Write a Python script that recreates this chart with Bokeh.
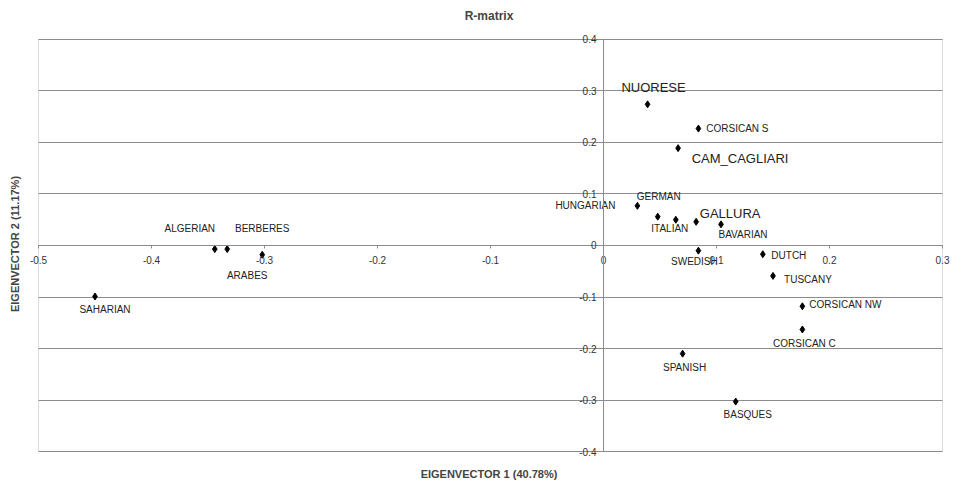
from bokeh.plotting import figure
from bokeh.models import ColumnDataSource, FixedTicker, Title, BoxAnnotation
from bokeh.core.properties import value
from bokeh.embed import file_html
from bokeh.resources import INLINE

# ---- data ----
names = ["NUORESE", "CORSICAN S", "CAM_CAGLIARI", "HUNGARIAN", "GERMAN", "ITALIAN",
         "GALLURA", "BAVARIAN", "SWEDISH", "DUTCH", "TUSCANY", "CORSICAN NW",
         "CORSICAN C", "SPANISH", "BASQUES", "ALGERIAN", "BERBERES", "ARABES", "SAHARIAN"]
ev1 = [0.039, 0.084, 0.066, 0.030, 0.048, 0.064, 0.082, 0.104, 0.084, 0.141, 0.150,
       0.176, 0.176, 0.070, 0.117, -0.344, -0.333, -0.302, -0.450]
ev2 = [0.274, 0.227, 0.189, 0.077, 0.056, 0.050, 0.046, 0.041, -0.010, -0.017, -0.059,
       -0.118, -0.163, -0.210, -0.303, -0.007, -0.007, -0.018, -0.099]
highlighted = ["NUORESE", "CAM_CAGLIARI", "GALLURA"]

x_ticks = [-0.5, -0.4, -0.3, -0.2, -0.1, 0, 0.1, 0.2, 0.3]
y_ticks = [-0.4, -0.3, -0.2, -0.1, 0, 0.1, 0.2, 0.3, 0.4]
x_tick_labels = ["-0.5", "-0.4", "-0.3", "-0.2", "-0.1", "0", "0.1", "0.2", "0.3"]
y_tick_labels = ["-0.4", "-0.3", "-0.2", "-0.1", "0", "0.1", "0.2", "0.3", "0.4"]

# label placement (screen pixels, layout only)
label_dx = [6, 39, 62, -52, 1, -6, 34, 22, -4, 26, 35, 43, 2, 2, 12, -25, 35, -15, 10]
label_dy = [-17, 0, 10, 0, -20, 9, -8, 10, 11, 1, 4, -2, 14, 14, 13, -21, -21, 21, 13]

FONT = "Liberation Sans"
GRID = "#8c8c8c"
TICK_TXT = "#333333"

# ---- layout: plot area 904 x 414 px; the frame is padded a little so that the
# end tick labels (which straddle the plot-area border) are not clipped ----
x_lo, x_hi = x_ticks[0], x_ticks[-1]
y_lo, y_hi = y_ticks[0], y_ticks[-1]
AREA_W, AREA_H = 904, 414
kx = AREA_W / (x_hi - x_lo)
ky = AREA_H / (y_hi - y_lo)
PAD_L, PAD_R, PAD_T, PAD_B = 12, 9, 11, 8
BORDER_L, BORDER_R, BORDER_T, BORDER_B = 26, 3, 27, 26

p = figure(width=BORDER_L + PAD_L + AREA_W + PAD_R + BORDER_R,
           height=BORDER_T + PAD_T + AREA_H + PAD_B + BORDER_B,
           x_range=(x_lo - PAD_L / kx, x_hi + PAD_R / kx),
           y_range=(y_lo - PAD_B / ky, y_hi + PAD_T / ky),
           output_backend="svg", toolbar_location=None,
           min_border_left=BORDER_L, min_border_right=BORDER_R,
           min_border_top=BORDER_T, min_border_bottom=BORDER_B)

p.title.text = "R-matrix"
p.title.align = "center"
p.title.text_font = FONT
p.title.text_font_size = "12px"
p.title.text_font_style = "bold"
p.title.standoff = 12

p.add_layout(Title(text="EIGENVECTOR 1 (40.78%)", align="center",
                   text_font=FONT, text_font_size="11px", text_font_style="bold",
                   standoff=13), "below")
p.add_layout(Title(text="EIGENVECTOR 2 (11.17%)", align="center",
                   text_font=FONT, text_font_size="11px", text_font_style="bold",
                   standoff=12), "left")

p.outline_line_color = None
p.add_layout(BoxAnnotation(left=x_lo, right=x_hi, bottom=y_lo, top=y_hi,
                           fill_alpha=0, line_color=GRID, line_width=1, level="underlay"))

p.xgrid.visible = False
yg = p.ygrid[0]
yg.ticker = FixedTicker(ticks=y_ticks)
yg.grid_line_color = GRID
yg.grid_line_width = 1
yg.bounds = (y_lo, y_hi)
if "cross_bounds" in yg.properties():
    yg.cross_bounds = (x_lo, x_hi)
else:
    yg.visible = False
    p.segment(x0=[x_lo] * len(y_ticks), x1=[x_hi] * len(y_ticks), y0=y_ticks, y1=y_ticks,
              line_color=GRID, line_width=1, level="underlay")

for ax in (p.xaxis, p.yaxis):
    ax.fixed_location = 0
    ax.axis_line_color = GRID
    ax.major_tick_line_color = GRID
    ax.minor_tick_line_color = None
    ax.major_tick_in = 0
    ax.major_tick_out = 3
    ax.major_label_text_font = FONT
    ax.major_label_text_font_size = "10px"
    ax.major_label_text_color = TICK_TXT

p.xaxis.bounds = (x_lo, x_hi)
p.yaxis.bounds = (y_lo, y_hi)
p.xaxis.major_label_standoff = 8
p.yaxis.major_label_standoff = 4
p.xaxis.ticker = FixedTicker(ticks=x_ticks)
p.yaxis.ticker = FixedTicker(ticks=y_ticks)
p.xaxis.major_label_overrides = dict(zip(x_ticks, x_tick_labels))
p.yaxis.major_label_overrides = dict(zip(y_ticks, y_tick_labels))

src = ColumnDataSource(dict(x=ev1, y=ev2, name=names, dx=label_dx, dy=label_dy,
                            size=["13px" if n in highlighted else "10px" for n in names]))

p.scatter("x", "y", source=src, marker="diamond", size=7, color="black")
p.text("x", "y", text="name", source=src, x_offset="dx", y_offset="dy",
       text_align="center", text_baseline="middle", text_font=value(FONT),
       text_font_size="size", text_color="#222222")

open("out.html", "w").write(file_html(p, INLINE))
